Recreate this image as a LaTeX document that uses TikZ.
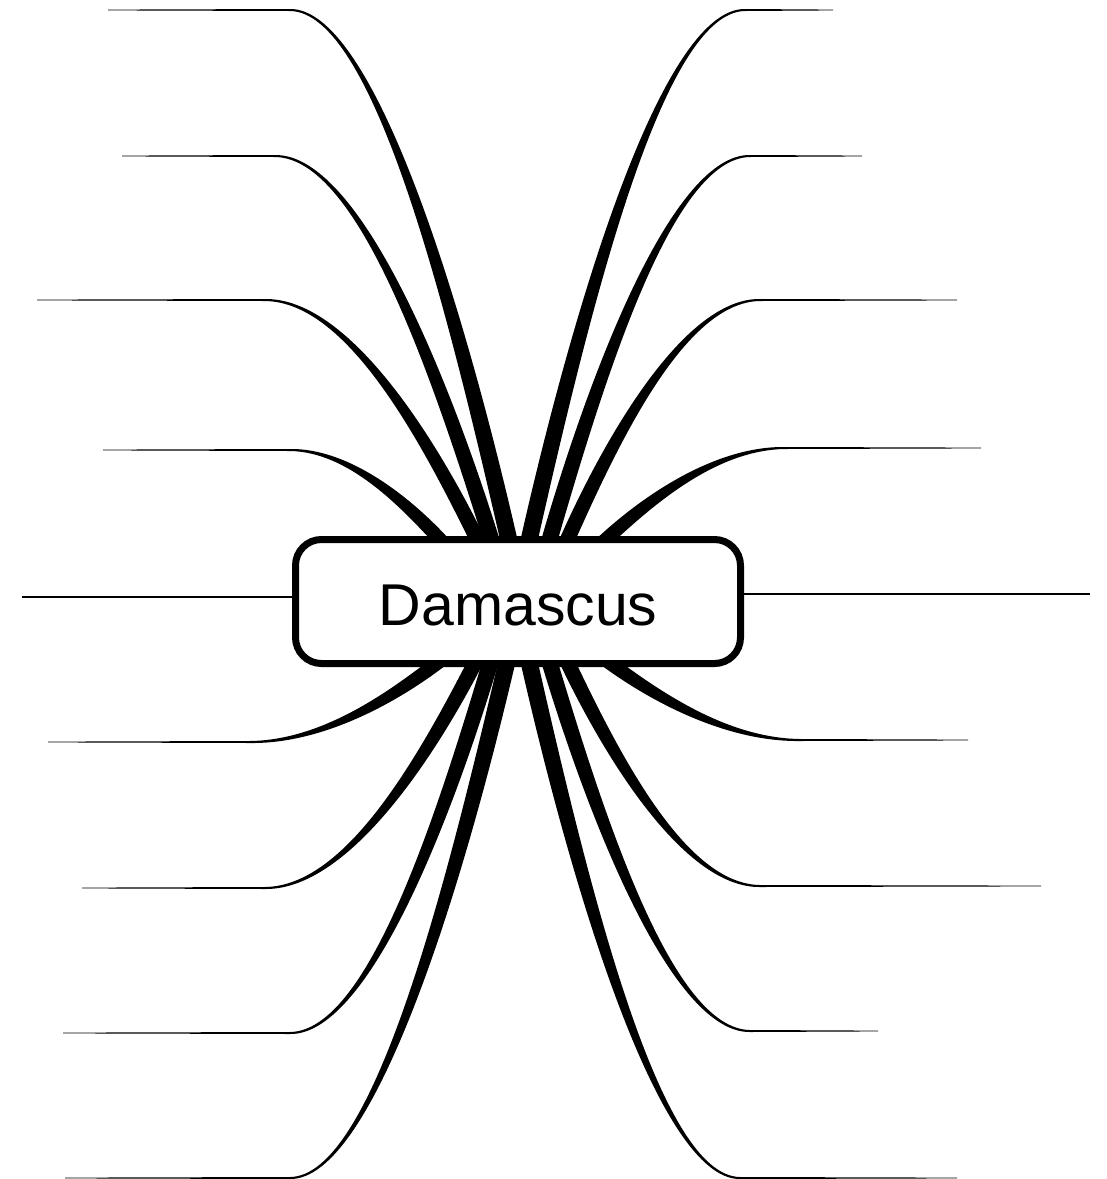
\documentclass[tikz,border=0pt]{standalone}
\usepackage{fontspec}
\setmainfont{Liberation Sans}
\usepackage{tikz}

\tikzset{
  hub/.style={draw, line width=7pt, fill=white, rounded corners=26pt,
    minimum width=445pt, minimum height=124pt, inner sep=0pt,
    text height=47pt, text depth=0pt,
    font=\fontsize{59}{70}\selectfont},
  flat/.style={line width=1.3pt}
}

% tapered branch: leaf name, leaf end x/y, bend x, base x/y, base half width
\newcommand{\twig}[7]{%
  \pgfmathsetmacro\bDx{#5-#4}\pgfmathsetmacro\bDy{#6-#3}%
  \pgfmathsetmacro\bAx{#4+0.38*\bDx}%
  \pgfmathsetmacro\bBx{#5-0.25*\bDx}\pgfmathsetmacro\bBy{#6-0.45*\bDy}%
  \pgfmathsetmacro\bL{100*sqrt((0.0025*\bDx)^2+(0.0045*\bDy)^2)}%
  \pgfmathsetmacro\bNx{-0.45*\bDy/\bL}\pgfmathsetmacro\bNy{0.25*\bDx/\bL}%
  \pgfmathsetmacro\bS{\bDx/abs(\bDx)}%
  \coordinate (#1) at (#2,#3);
  \fill (#5+#7*\bNx,#6+#7*\bNy)
    .. controls (\bBx+#7*\bNx,\bBy+#7*\bNy) and (\bAx,#3+2*\bS) .. (#4,#3+\bS)
    -- ([shift={(0,0.4*\bS)}]#1) -- ([shift={(0,-0.4*\bS)}]#1)
    -- (#4,#3-\bS)
    .. controls (\bAx,#3-2*\bS) and (\bBx-#7*\bNx,\bBy-#7*\bNy) .. (#5-#7*\bNx,#6-#7*\bNy)
    -- cycle;
}

\begin{document}
\begin{tikzpicture}[x=1pt, y=-1pt]
\useasboundingbox (0,0) rectangle (1107,1179);

% branches
\foreach \nm/\ex/\ey/\kx/\bx/\by/\w in {
  l1/108/10/290/510/545/8.5, l2/122/156/275/493/545/8,
  l3/37/300/265/480/545/7.5, l4/103/450/290/445/545/7,
  l6/48/742/250/445/657/7, l7/82/888/265/478/657/7.5,
  l8/63/1033/290/492/657/8, l9/65/1178/290/508/657/8.5,
  r1/833/10/745/528/545/8.5, r2/862/156/750/548/545/8,
  r3/957/300/760/565/545/7.5, r4/981/448/785/600/545/7,
  r6/968/740/800/602/657/7, r7/1041/886/760/565/657/7.5,
  r8/878/1031/750/548/657/8, r9/957/1178/740/528/657/8.5}
  {\twig{\nm}{\ex}{\ey}{\kx}{\bx}{\by}{\w}}

\node[hub] (hub) at (518,601.5) {Damascus};

\coordinate (l5) at (22,597);
\coordinate (r5) at (1090,594);
\draw[flat] (l5) -- (hub.west |- l5);
\draw[flat] (hub.east |- r5) -- (r5);

\end{tikzpicture}
\end{document}
